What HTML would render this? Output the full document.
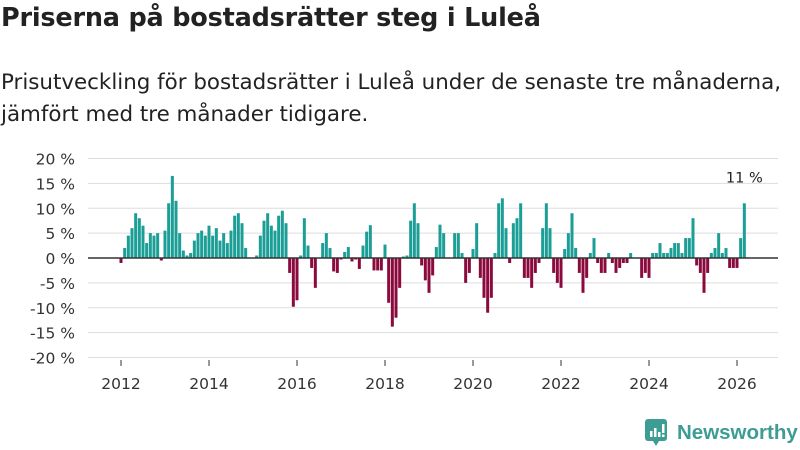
<!DOCTYPE html>
<html><head><meta charset="utf-8"><style>
body{margin:0;width:800px;height:450px;background:#fff;font-family:"Liberation Sans",sans-serif;overflow:hidden;position:relative}
#title{position:absolute;left:1px;top:3px;font-family:"DejaVu Sans",sans-serif;font-size:25.5px;font-weight:bold;color:#222;margin:0;white-space:nowrap;letter-spacing:-0.2px}
#sub{position:absolute;left:1px;top:67px;font-family:"DejaVu Sans",sans-serif;font-size:21.4px;line-height:32px;color:#222;white-space:nowrap}
</style></head><body>
<h1 id="title">Priserna på bostadsrätter steg i Luleå</h1>
<div id="sub">Prisutveckling för bostadsrätter i Luleå under de senaste tre månaderna,<br>jämfört med tre månader tidigare.</div>
<svg id="chart" width="800" height="450" style="position:absolute;left:0;top:0"></svg>
<script>
const yTicks=[20,15,10,5,0,-5,-10,-15,-20];
const xTickYears=[2012,2014,2016,2018,2020,2022,2024,2026];
const startYear=2012;
const values=[
-1,2,4.5,6,9,8,6.5,3,5,4.5,5,-0.5,
5.5,11,16.5,11.5,5,1.5,0.5,1,3.5,5,5.5,4.5,
6.5,4.5,6,3.5,5,3,5.5,8.5,9,7,2,0,
0,0.5,4.5,7.5,9,6.5,5.5,8.5,9.5,7,-3,-9.8,
-8.5,0.5,8,2.5,-2,-6,0,3,5,2,-2.7,-3,
-0.3,1.2,2.2,-0.7,-0.3,-2.2,2.5,5.3,6.6,-2.5,-2.5,-2.5,
2.7,-9,-13.8,-12,-6,0.3,0.5,7.5,11,7,-1.5,-4.5,
-7,-3.5,2.2,6.7,5,0,0,5,5,1,-5,-3,
1.8,7,-4,-8,-11,-8,1,11,12,6,-1,7,
8,11,-4,-4,-6,-3,-1,6,11,6,-3,-5,
-6,1.8,5,9,2,-3,-7,-4,1,4,-1,-3,
-3,1,-1,-3,-2,-1,-1,1,0,0,-4,-3,
-4,1,1,3,1,1,2,3,3,1,4,4,
8,-1.5,-3,-7,-3,1,2,5,1,2,-2,-2,
-2,4,11];
const lastLabel="11 %";
const svg=document.getElementById('chart');
const NS='http://www.w3.org/2000/svg';
function y(v){return 258-v*4.975;}
function x(m){return 121+m*(616/168);}
function mk(t,a,txt){const e=document.createElementNS(NS,t);for(const k in a)e.setAttribute(k,a[k]);if(txt!==undefined)e.textContent=txt;svg.appendChild(e);return e;}
yTicks.forEach(v=>{
  const g=mk('line',{x1:88,x2:778,y1:y(v),y2:y(v),stroke:'#ddd','stroke-width':1});
  
  
  const t=mk('text',{x:75,y:y(v)+6,'text-anchor':'end','font-size':15.5,'font-family':'DejaVu Sans, sans-serif',fill:'#333'},v+' %');
  
  
});
xTickYears.forEach(yr=>{
  const xx=x((yr-startYear)*12);
  const l=mk('line',{x1:xx,x2:xx,y1:360,y2:366,stroke:'#333','stroke-width':1});
  
  
  const t=mk('text',{x:xx,y:389,'text-anchor':'middle','font-size':15.5,'font-family':'DejaVu Sans, sans-serif',fill:'#333'},String(yr));
  
  
});
values.forEach((v,i)=>{
  const xx=x(i);
  const r=mk('rect',{x:xx-1.5,y:Math.min(y(v),y(0)),width:3,height:Math.abs(y(v)-y(0)),fill:v>=0?'#1a9e96':'#8b0a3d'});
  
  
});
const z=mk('line',{x1:88,x2:778,y1:y(0),y2:y(0),stroke:'#333','stroke-width':1.5});


const lx=x(values.length-1);
const lab=mk('text',{x:lx,y:y(values[values.length-1])-21,'text-anchor':'middle','font-size':14.5,'font-family':'DejaVu Sans, sans-serif',fill:'#222'},lastLabel);


</script>
<div style="position:absolute;left:645px;top:420px;height:26px;display:flex;align-items:center">
<svg width="24" height="28" viewBox="0 0 24 28"><rect x="0" y="0" width="22" height="22" rx="3" fill="#3d9c94"/><polygon points="8,22 14,22 11,27" fill="#3d9c94"/><rect x="5" y="12" width="2.5" height="6" fill="#fff"/><rect x="9" y="9" width="2.5" height="9" fill="#fff"/><rect x="13" y="13" width="2.5" height="5" fill="#fff"/><rect x="17" y="5" width="2.5" height="9" fill="#fff"/><rect x="17" y="15.5" width="2.5" height="2.5" fill="#fff"/></svg>
<span style="margin-left:8px;font-size:20.5px;font-weight:bold;color:#3d9c94">Newsworthy</span></div>
</body></html>
